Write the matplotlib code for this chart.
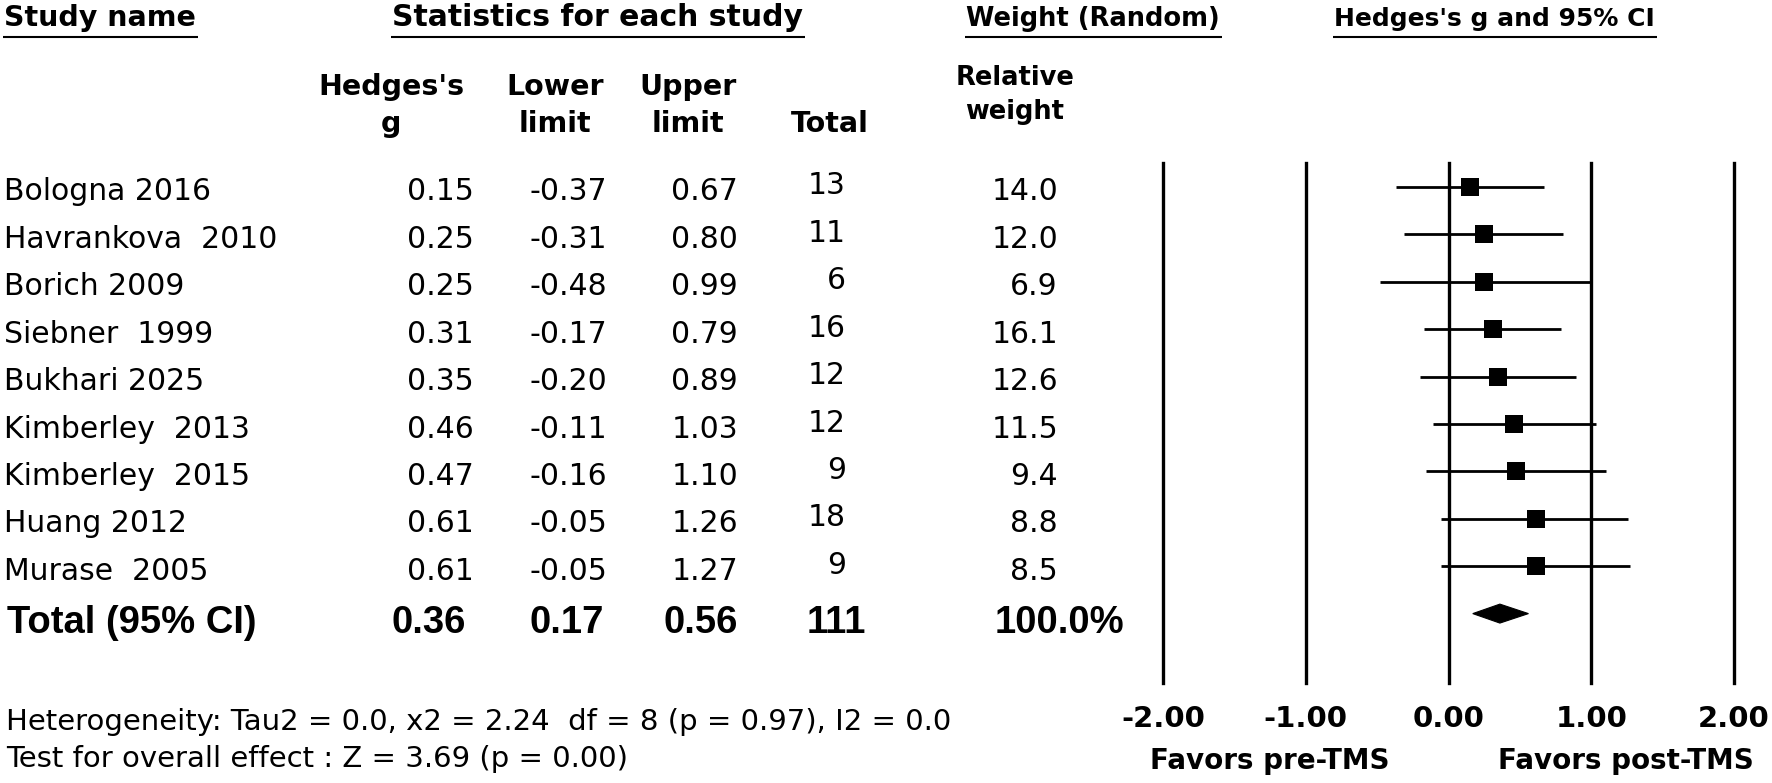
import matplotlib
matplotlib.use("Agg")
import matplotlib.pyplot as plt
from matplotlib.patches import Polygon
from matplotlib.transforms import blended_transform_factory

# ---------------- data ----------------
studies = ["Bologna 2016", "Havrankova  2010", "Borich 2009", "Siebner  1999",
           "Bukhari 2025", "Kimberley  2013", "Kimberley  2015", "Huang 2012",
           "Murase  2005"]
hedges_g = [0.15, 0.25, 0.25, 0.31, 0.35, 0.46, 0.47, 0.61, 0.61]
lower_limit = [-0.37, -0.31, -0.48, -0.17, -0.20, -0.11, -0.16, -0.05, -0.05]
upper_limit = [0.67, 0.80, 0.99, 0.79, 0.89, 1.03, 1.10, 1.26, 1.27]
total_n = [13, 11, 6, 16, 12, 12, 9, 18, 9]
rel_weight = [14.0, 12.0, 6.9, 16.1, 12.6, 11.5, 9.4, 8.8, 8.5]

pooled_label = "Total (95% CI)"
pooled_g = 0.36
pooled_lower = 0.17
pooled_upper = 0.56
pooled_n = 111
pooled_weight = "100.0%"

axis_ticks = [-2.0, -1.0, 0.0, 1.0, 2.0]
favors_labels = ["Favors pre-TMS", "Favors post-TMS"]
heterogeneity_text = "Heterogeneity: Tau2 = 0.0, x2 = 2.24  df = 8 (p = 0.97), I2 = 0.0"
overall_text = "Test for overall effect : Z = 3.69 (p = 0.00)"

# ---------------- layout ----------------
W, H = 1772, 783
fig = plt.figure(figsize=(W / 100, H / 100), dpi=100)
fig.patch.set_facecolor("white")

tab = fig.add_axes([0, 0, 1, 1])
tab.set_xlim(0, W)
tab.set_ylim(H, 0)
tab.axis("off")

ROW0 = 187.0     # centre of first row (px)
ROWH = 47.4      # row spacing (px)
TXT_OFF = 13.5   # baseline offset below row centre

top_px, bot_px = 163, 683
x_lo_px, x_hi_px = 1163, 1734
fax = fig.add_axes([x_lo_px / W, 1 - bot_px / H,
                    (x_hi_px - x_lo_px) / W, (bot_px - top_px) / H])
fax.set_xlim(-2, 2)
fax.set_ylim((bot_px - ROW0) / ROWH, (top_px - ROW0) / ROWH)
fax.axis("off")

REG = dict(family="DejaVu Sans", fontsize=21.5, color="black")
BOLDH = dict(family="DejaVu Sans", fontweight="bold", color="black")
TOT = dict(family="Liberation Sans", fontweight="bold", fontsize=27.5, color="black")

# ---------------- headers ----------------
headers = [("Study name", 4, 20.5),
           ("Statistics for each study", 392, 21.5),
           ("Weight (Random)", 966, 18.5),
           ("Hedges's g and 95% CI", 1334, 18)]
htexts = []
for txt, x, fs in headers:
    t = tab.text(x, 26, txt, ha="left", va="baseline", fontsize=fs, **BOLDH)
    htexts.append(t)

sub = [("Hedges's", "g", 391), ("Lower", "limit", 555), ("Upper", "limit", 688)]
for l1, l2, x in sub:
    tab.text(x, 95, l1, ha="center", va="baseline", fontsize=20.5, **BOLDH)
    tab.text(x, 132, l2, ha="center", va="baseline", fontsize=20.5, **BOLDH)
tab.text(830, 132, "Total", ha="center", va="baseline", fontsize=20.5, **BOLDH)
tab.text(1015, 85, "Relative", ha="center", va="baseline", fontsize=18.5, **BOLDH)
tab.text(1015, 119, "weight", ha="center", va="baseline", fontsize=18.5, **BOLDH)

# ---------------- study rows ----------------
for i, name in enumerate(studies):
    yb = ROW0 + TXT_OFF + i * ROWH
    tab.text(4, yb, name, ha="left", va="baseline", **REG)
    tab.text(474, yb, f"{hedges_g[i]:.2f}", ha="right", va="baseline", **REG)
    tab.text(607, yb, f"{lower_limit[i]:.2f}", ha="right", va="baseline", **REG)
    tab.text(738, yb, f"{upper_limit[i]:.2f}", ha="right", va="baseline", **REG)
    tab.text(846, yb - 6, f"{total_n[i]}", ha="right", va="baseline", **REG)
    tab.text(1058, yb, f"{rel_weight[i]:.1f}", ha="right", va="baseline", **REG)

# pooled row
k = len(studies)
ybt = 633
tab.text(7, ybt, pooled_label, ha="left", va="baseline", **TOT)
tab.text(466, ybt, f"{pooled_g:.2f}", ha="right", va="baseline", **TOT)
tab.text(604, ybt, f"{pooled_lower:.2f}", ha="right", va="baseline", **TOT)
tab.text(738, ybt, f"{pooled_upper:.2f}", ha="right", va="baseline", **TOT)
tab.text(866, ybt, f"{pooled_n}", ha="right", va="baseline", **TOT)
tab.text(995, ybt, pooled_weight, ha="left", va="baseline", **TOT)

# footer text
tab.text(6, 730, heterogeneity_text, ha="left", va="baseline",
         family="DejaVu Sans", fontsize=21, color="black")
tab.text(6, 767, overall_text, ha="left", va="baseline",
         family="DejaVu Sans", fontsize=21, color="black")

# ---------------- forest plot ----------------
for t in axis_ticks:
    fax.axvline(t, color="black", lw=2.4, clip_on=False, zorder=1)

rows = list(range(k))
fax.hlines(rows, lower_limit, upper_limit, color="black", lw=2.0, zorder=2)
fax.plot(hedges_g, rows, linestyle="none", marker="s", ms=12.6,
         color="black", mec="black", mew=0, zorder=3)

dh = 0.2
diamond = Polygon([(pooled_lower, k), (pooled_g, k - dh),
                   (pooled_upper, k), (pooled_g, k + dh)],
                  closed=True, facecolor="black", edgecolor="black", lw=0.8, zorder=3)
fax.add_patch(diamond)

btr = blended_transform_factory(fax.transData, tab.transData)
for t in axis_ticks:
    tab.text(t, 727, f"{t:.2f}", transform=btr, ha="center", va="baseline",
             fontsize=21, **BOLDH)
tab.text(-1.25, 769, favors_labels[0], transform=btr, ha="center", va="baseline",
         fontsize=20, **BOLDH)
tab.text(1.24, 769, favors_labels[1], transform=btr, ha="center", va="baseline",
         fontsize=20, **BOLDH)

# ---------------- header underlines ----------------
fig.canvas.draw()
renderer = fig.canvas.get_renderer()
for t in htexts:
    bb = t.get_window_extent(renderer)
    tab.plot([bb.x0 - 1, bb.x1 + 2], [37, 37], color="black", lw=1.5,
             solid_capstyle="butt")

fig.savefig("out.png", dpi=100, facecolor="white")
